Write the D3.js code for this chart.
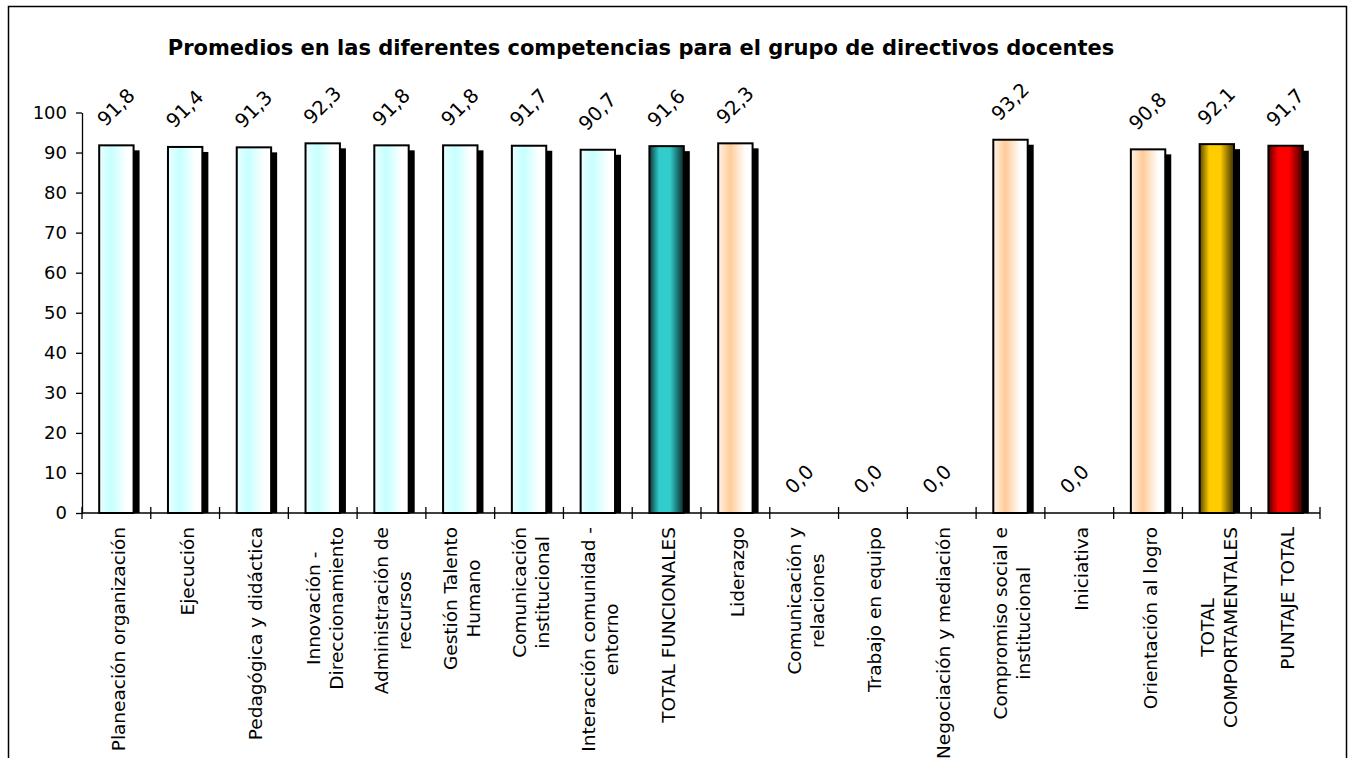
<!DOCTYPE html>
<html>
<head>
<meta charset="utf-8">
<script src="https://cdn.jsdelivr.net/npm/d3@7"></script>
<style>
  html, body { margin: 0; padding: 0; background: #fff; }
  svg { display: block; }
  text { font-family: "DejaVu Sans", Verdana, sans-serif; fill: #000; }
</style>
</head>
<body>
<svg id="chart" width="1351" height="758"></svg>
<script>
// Competency names (line breaks mark wrapped labels)
const categories = [
  "Planeación organización",
  "Ejecución",
  "Pedagógica y didáctica",
  "Innovación -\nDireccionamiento",
  "Administración de\nrecursos",
  "Gestión Talento\nHumano",
  "Comunicación\ninstitucional",
  "Interacción comunidad -\nentorno",
  "TOTAL FUNCIONALES",
  "Liderazgo",
  "Comunicación y\nrelaciones",
  "Trabajo en equipo",
  "Negociación y mediación",
  "Compromiso social e\ninstitucional",
  "Iniciativa",
  "Orientación al logro",
  "TOTAL\nCOMPORTAMENTALES",
  "PUNTAJE TOTAL"
];

// Average score per competency
const values = [91.8, 91.4, 91.3, 92.3, 91.8, 91.8, 91.7, 90.7, 91.6,
                92.3, 0.0, 0.0, 0.0, 93.2, 0.0, 90.8, 92.1, 91.7];

// Fill group per competency
const groups = ["func", "func", "func", "func", "func", "func", "func", "func", "totalFunc",
                "comp", "comp", "comp", "comp", "comp", "comp", "comp", "totalComp", "total"];

const yTicks = [0, 10, 20, 30, 40, 50, 60, 70, 80, 90, 100];

const title = "Promedios en las diferentes competencias para el grupo de directivos docentes";

const svg = d3.select("#chart");

// Outer frame
svg.append("rect")
  .attr("x", 8.5).attr("y", 6.5)
  .attr("width", 1338).attr("height", 800)
  .attr("fill", "none").attr("stroke", "#000").attr("stroke-width", 1.5);

const plot = { left: 82, right: 1320, top: 112.5, bottom: 513 };

const x = d3.scaleBand()
  .domain(categories)
  .range([plot.left, plot.right])
  .paddingInner(0.5)
  .paddingOuter(0.25);

const y = d3.scaleLinear()
  .domain([0, 100])
  .range([plot.bottom, plot.top]);

// Gradients for the bar fills
const defs = svg.append("defs");
const gradients = {
  func: [[0, "#eaffff"], [0.35, "#c6ffff"], [0.8, "#ffffff"], [1, "#ffffff"]],
  comp: [[0, "#fff2e6"], [0.35, "#ffcc99"], [0.8, "#ffffff"], [1, "#ffffff"]],
  totalFunc: [[0, "#0c3a3a"], [0.28, "#33cccc"], [0.6, "#33cccc"], [1, "#082a2a"]],
  totalComp: [[0, "#5c4800"], [0.28, "#ffcc00"], [0.6, "#ffcc00"], [1, "#3d3000"]],
  total: [[0, "#5a0000"], [0.28, "#ff0000"], [0.6, "#ff0000"], [1, "#3a0000"]]
};
Object.entries(gradients).forEach(([key, stops]) => {
  const g = defs.append("linearGradient")
    .attr("id", "grad-" + key)
    .attr("x1", "0").attr("x2", "1").attr("y1", "0").attr("y2", "0");
  stops.forEach(([o, c]) => g.append("stop").attr("offset", o).attr("stop-color", c));
});

// Title
svg.append("text")
  .attr("x", 641).attr("y", 55)
  .attr("text-anchor", "middle")
  .attr("font-weight", "bold")
  .attr("font-size", 21)
  .text(title);

// Y axis
const yAxis = d3.axisLeft(y)
  .tickValues(yTicks)
  .tickSize(6)
  .tickSizeOuter(0)
  .tickPadding(9);
const gy = svg.append("g")
  .attr("transform", `translate(${plot.left},0)`)
  .call(yAxis);
gy.select(".domain").attr("stroke", "#000").attr("stroke-width", 1.3);
gy.selectAll(".tick line").attr("stroke", "#000").attr("stroke-width", 1.3);
gy.selectAll(".tick text")
  .attr("font-size", 18)
  .attr("font-family", "DejaVu Sans, Verdana, sans-serif")
  .attr("fill", "#000");

const data = categories.map((c, i) => ({ cat: c, value: values[i], group: groups[i] }));
const shadowDx = 6, shadowDy = 5;

// Bar shadows
svg.append("g").selectAll("rect")
  .data(data.filter(d => d.value > 0))
  .join("rect")
  .attr("x", d => x(d.cat) + shadowDx)
  .attr("y", d => y(d.value) + shadowDy)
  .attr("width", x.bandwidth())
  .attr("height", d => y(0) - y(d.value) - shadowDy)
  .attr("fill", "#000");

// Bars
svg.append("g").selectAll("rect")
  .data(data.filter(d => d.value > 0))
  .join("rect")
  .attr("x", d => x(d.cat))
  .attr("y", d => y(d.value))
  .attr("width", x.bandwidth())
  .attr("height", d => y(0) - y(d.value))
  .attr("fill", d => `url(#grad-${d.group})`)
  .attr("stroke", "#000")
  .attr("stroke-width", 2);

// X axis line with ticks crossing it at the category boundaries
svg.append("line")
  .attr("x1", plot.left).attr("x2", plot.right)
  .attr("y1", y(0)).attr("y2", y(0))
  .attr("stroke", "#000").attr("stroke-width", 1.3);
const step = x.step();
svg.append("g").selectAll("line")
  .data(d3.range(categories.length + 1))
  .join("line")
  .attr("x1", i => plot.left + i * step)
  .attr("x2", i => plot.left + i * step)
  .attr("y1", y(0) - 6).attr("y2", y(0) + 6)
  .attr("stroke", "#000").attr("stroke-width", 1.3);

// Category labels, rotated and wrapped
const lineH = 23;
const labels = svg.append("g").selectAll("g")
  .data(data)
  .join("g")
  .attr("transform", d => `translate(${x(d.cat) + x.bandwidth() / 2 + 2},${y(0) + 14}) rotate(-90)`);
labels.each(function (d) {
  const lines = d.cat.split("\n");
  const g = d3.select(this);
  const widths = [];
  lines.forEach((ln, k) => {
    const t = g.append("text")
      .attr("font-size", 18.5)
      .attr("dy", "0.35em")
      .attr("y", (k - (lines.length - 1) / 2) * lineH)
      .text(ln);
    widths.push(t.node().getComputedTextLength());
  });
  const maxW = d3.max(widths);
  g.selectAll("text")
    .attr("text-anchor", "middle")
    .attr("x", -maxW / 2);
});

// Value labels
const fmt = v => d3.format(".1f")(v).replace(".", ",");
svg.append("g").selectAll("text")
  .data(data)
  .join("text")
  .attr("transform", d => `translate(${x(d.cat) + x.bandwidth() / 2 - 11},${y(d.value) - 18}) rotate(-45)`)
  .attr("font-size", 19.5)
  .text(d => fmt(d.value));
</script>
</body>
</html>
